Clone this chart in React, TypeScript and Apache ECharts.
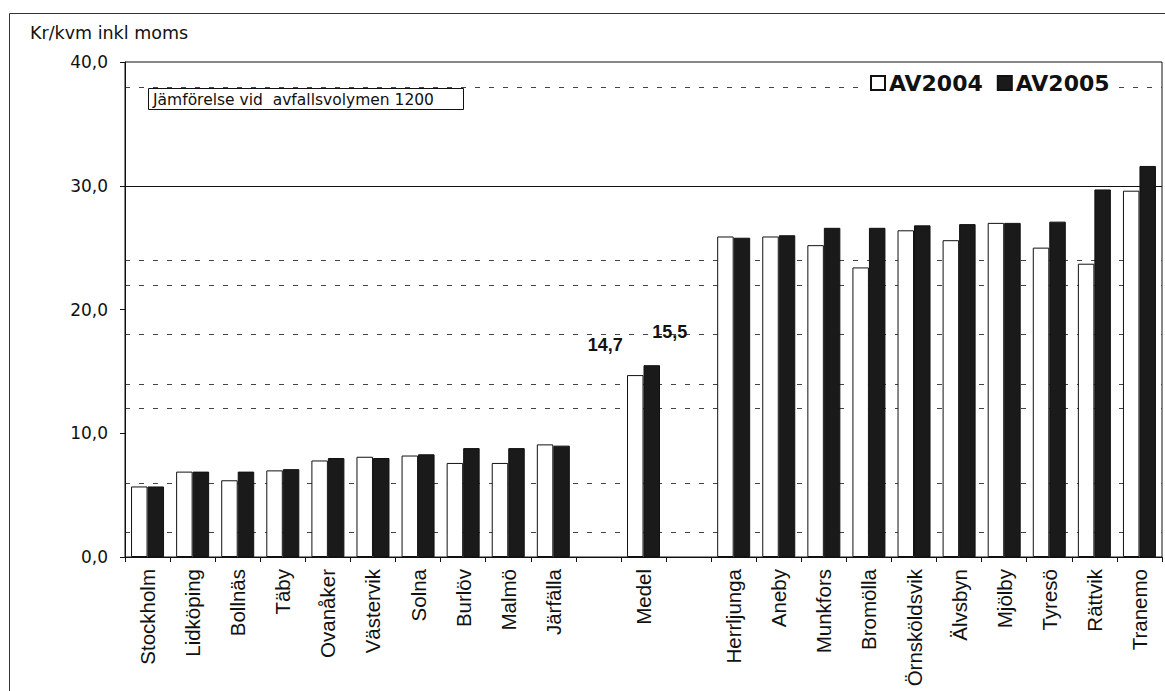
import React, { useEffect, useRef } from "react";
import * as echarts from "echarts";

const categories = [
  "Stockholm", "Lidköping", "Bollnäs", "Täby", "Ovanåker", "Västervik", "Solna", "Burlöv", "Malmö", "Järfälla",
  "", "Medel", "",
  "Herrljunga", "Aneby", "Munkfors", "Bromölla", "Örnsköldsvik", "Älvsbyn", "Mjölby", "Tyresö", "Rättvik", "Tranemo",
];
const av2004 = [5.7, 6.9, 6.2, 7.0, 7.8, 8.1, 8.2, 7.6, 7.6, 9.1, null, 14.7, null, 25.9, 25.9, 25.2, 23.4, 26.4, 25.6, 27.0, 25.0, 23.7, 29.6];
const av2005 = [5.7, 6.9, 6.9, 7.1, 8.0, 8.0, 8.3, 8.8, 8.8, 9.0, null, 15.5, null, 25.8, 26.0, 26.6, 26.6, 26.8, 26.9, 27.0, 27.1, 29.7, 31.6];
const seriesNames = ["AV2004", "AV2005"];
const labelledCategory = "Medel";
const yTicks = [0, 10, 20, 30, 40];
const solidLevels = [30];
const dashedLevels = [2, 6, 12, 14, 18, 22, 24, 38];
const yTitle = "Kr/kvm inkl moms";
const noteText = "Jämförelse vid  avfallsvolymen 1200";

const fmt = (v: number) => v.toFixed(1).replace(".", ",");

export default function App() {
  const ref = useRef<HTMLDivElement>(null);
  useEffect(() => {
    if (!ref.current) return;
    const chart = echarts.init(ref.current, null, { renderer: "svg" });
    const medelIdx = categories.indexOf(labelledCategory);
    const mk = (arr: (number | null)[], off: number[]) =>
      arr.map((v, i) =>
        i === medelIdx && v != null
          ? { value: v, label: { show: true, position: "top", offset: off } }
          : v
      );
    const minorLevels: number[] = [];
    for (let v = 0; v <= 40; v += 2) minorLevels.push(v);
    const minorColors = minorLevels.map((v) => (dashedLevels.includes(v) ? "#444" : "rgba(0,0,0,0)"));
    const majorColors = yTicks.map((v) => (solidLevels.includes(v) ? "#111" : "rgba(0,0,0,0)"));
    const barLabel = {
      show: false,
      formatter: (p: any) => String(p.value).replace(".", ","),
      fontFamily: "Liberation Sans",
      fontWeight: "bold",
      fontSize: 18,
      color: "#111",
    };
    chart.setOption({
      animation: false,
      backgroundColor: "#fff",
      grid: { left: 125, right: 3, top: 62, bottom: 134, show: true, borderColor: "#111", borderWidth: 1 },
      legend: {
        left: 866,
        top: 70,
        itemWidth: 14,
        itemHeight: 14,
        itemGap: 14,
        padding: [2, 4],
        backgroundColor: "#fff",
        icon: "rect",
        textStyle: { fontFamily: "DejaVu Sans", fontWeight: "bold", fontSize: 22, color: "#111", padding: [0, 0, 0, -1] },
        data: seriesNames,
      },
      xAxis: {
        type: "category",
        data: categories,
        axisLine: { lineStyle: { color: "#111", width: 1 } },
        axisTick: { show: true, length: 5, interval: 0, lineStyle: { color: "#111" } },
        axisLabel: {
          interval: 0,
          rotate: 90,
          margin: 12,
          fontFamily: "Liberation Sans",
          fontSize: 20.5,
          color: "#111",
        },
      },
      yAxis: [
        {
          type: "value",
          min: 0,
          max: 40,
          interval: 10,
          axisLine: { show: true, lineStyle: { color: "#111" } },
          axisTick: { show: true, length: 5, lineStyle: { color: "#111" } },
          axisLabel: { formatter: fmt, fontFamily: "DejaVu Sans", fontSize: 17, color: "#111", margin: 17 },
          splitLine: { show: true, lineStyle: { color: majorColors, width: 1 } },
        },
        {
          type: "value",
          min: 0,
          max: 40,
          interval: 2,
          position: "left",
          axisLine: { show: false },
          axisTick: { show: false },
          axisLabel: { show: false },
          splitLine: { show: true, lineStyle: { color: minorColors, type: [5, 9], width: 1 } },
        },
      ],
      series: [
        {
          name: seriesNames[0],
          type: "bar",
          barWidth: 16.5,
          barGap: "0%",
          data: mk(av2004, [-30, -16]),
          itemStyle: { color: "#fff", borderColor: "#111", borderWidth: 1 },
          label: barLabel,
        },
        {
          name: seriesNames[1],
          type: "bar",
          barWidth: 16.5,
          barGap: "0%",
          data: mk(av2005, [18, -19]),
          itemStyle: { color: "#1a1a1a", borderColor: "#111", borderWidth: 1 },
          label: barLabel,
        },
      ],
      graphic: [
        {
          type: "rect",
          shape: { x: 9.5, y: 13.5, width: 1300, height: 800 },
          style: { fill: "none", stroke: "#333", lineWidth: 1 },
          silent: true,
        },
        {
          type: "text",
          x: 30,
          y: 33,
          style: { text: yTitle, fontFamily: "DejaVu Sans", fontSize: 17.5, fill: "#111", textVerticalAlign: "middle" },
        },
        {
          type: "group",
          children: [
            {
              type: "rect",
              shape: { x: 148.5, y: 88.5, width: 315, height: 21 },
              style: { fill: "#fff", stroke: "#111", lineWidth: 1 },
            },
            {
              type: "text",
              x: 153,
              y: 99.5,
              style: { text: noteText, fontFamily: "DejaVu Sans", fontSize: 15.5, fill: "#111", textVerticalAlign: "middle" },
            },
          ],
        },
      ],
    });
    return () => chart.dispose();
  }, []);
  return <div ref={ref} style={{ position: "fixed", left: 0, top: 0, width: 1165, height: 691 }} />;
}
